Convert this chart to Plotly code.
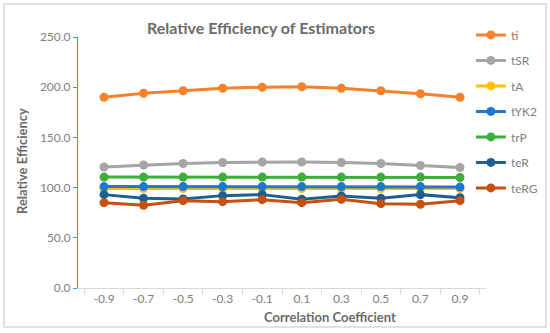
import plotly.graph_objects as go

categories = ["-0.9", "-0.7", "-0.5", "-0.3", "-0.1", "0.1", "0.3", "0.5", "0.7", "0.9"]
ti   = [190.0, 194.0, 196.5, 199.0, 200.0, 200.5, 199.0, 196.5, 193.5, 190.0]
tSR  = [120.5, 122.5, 124.0, 125.0, 125.5, 125.5, 125.0, 124.0, 122.0, 120.0]
tA   = [99.0, 99.0, 99.0, 99.0, 99.0, 99.0, 99.0, 99.0, 99.0, 99.0]
tYK2 = [101.0, 101.0, 101.0, 101.0, 101.0, 101.0, 101.0, 101.0, 101.0, 100.5]
trP  = [110.5, 110.5, 110.5, 110.5, 110.5, 110.5, 110.5, 110.5, 110.5, 110.0]
teR  = [93.0, 89.3, 88.6, 92.0, 93.0, 88.3, 91.6, 89.3, 93.0, 90.0]
teRG = [85.0, 82.4, 87.0, 86.0, 88.0, 85.0, 88.3, 84.0, 83.4, 87.0]
y_ticks = [0, 50, 100, 150, 200, 250]

series = [
    ("ti", ti, "#F7812A"),
    ("tSR", tSR, "#A5A5A5"),
    ("tA", tA, "#FFC000"),
    ("tYK2", tYK2, "#1F78D0"),
    ("trP", trP, "#3DAE3A"),
    ("teR", teR, "#1E5E91"),
    ("teRG", teRG, "#C5500F"),
]

font = "Lato, Open Sans, sans-serif"
fig = go.Figure()
for name, vals, col in series:
    fig.add_trace(go.Scatter(
        x=categories, y=vals, name=name, legendgroup=name,
        mode="lines+markers",
        line=dict(color=col, width=3),
        marker=dict(color=col, size=9),
    ))

fig.update_layout(
    width=550, height=333,
    margin=dict(l=78, r=64, t=37, b=45, autoexpand=False),
    paper_bgcolor="white", plot_bgcolor="white",
    font=dict(family=font, color="#7F7F7F", size=12),
    title=dict(text="<b>Relative Efficiency of Estimators</b>",
               font=dict(size=16, color="#6B6B6B", family=font),
               x=261/550, xref="container", xanchor="center",
               y=1-28/333, yref="container", yanchor="middle"),
    showlegend=True,
    legend=dict(x=0.963, xanchor="left", y=1.066, yanchor="top",
                traceorder="grouped", tracegroupgap=6.5, maxheight=320,
                font=dict(size=12, color="#7F7F7F", family=font),
                itemwidth=30, bgcolor="rgba(0,0,0,0)"),
    xaxis=dict(type="category", showgrid=False, showline=True,
               linecolor="#D9D9D9", linewidth=1,
               ticks="outside", tickson="boundaries", ticklen=5,
               tickcolor="#D9D9D9", tickfont=dict(size=12, color="#7F7F7F")),
    yaxis=dict(range=[0, 250], tickvals=y_ticks, tickformat=".1f",
               showgrid=False, showline=True, linecolor="#29A3E0", linewidth=1,
               ticks="outside", ticklen=4, tickcolor="#29A3E0",
               zeroline=False, tickfont=dict(size=12, color="#7F7F7F")),
    annotations=[
        dict(text="<b>Correlation Coefficient</b>", xref="paper", yref="paper",
             x=(330-78)/408, y=(288-317)/251, xanchor="center", yanchor="middle",
             showarrow=False, font=dict(size=13, color="#6B6B6B", family=font)),
        dict(text="<b>Relative Efficiency</b>", xref="paper", yref="paper",
             x=(22-78)/408, y=(288-161)/251, xanchor="center", yanchor="middle",
             textangle=-90, showarrow=False,
             font=dict(size=13, color="#6B6B6B", family=font)),
    ],
    shapes=[
        dict(type="rect", xref="paper", yref="paper",
             x0=(4-78)/408, x1=(546-78)/408, y0=(288-327)/251, y1=(288-4)/251,
             line=dict(color="#D9D9D9", width=1.5), fillcolor="rgba(0,0,0,0)", layer="above"),
    ],
)

fig.write_html("out.html", config={"displayModeBar": False},
               post_script="document.body.style.margin='0';document.body.style.overflow='hidden';")
